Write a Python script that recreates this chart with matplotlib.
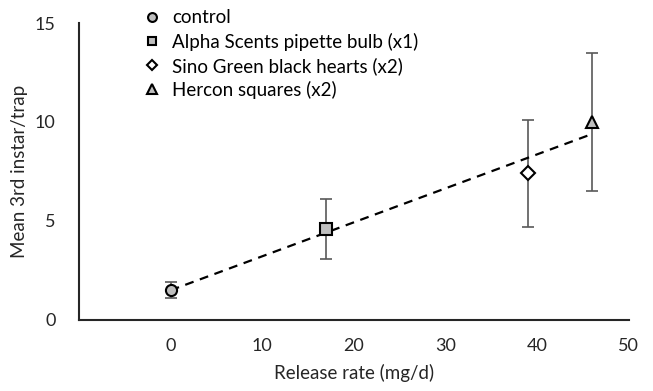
import numpy as np
import matplotlib.pyplot as plt

plt.rcParams['font.family'] = ['Lato', 'DejaVu Sans']

# data
labels = ['control', 'Alpha Scents pipette bulb (x1)', 'Sino Green black hearts (x2)', 'Hercon squares (x2)']
release = [0, 17, 39, 46]
mean_instar = [1.5, 4.6, 7.4, 10.0]
err_lo = [0.4, 1.5, 2.7, 3.5]
err_hi = [0.4, 1.5, 2.7, 3.5]
markers = ['o', 's', 'D', '^']
fills = ['#bfbfbf', '#bfbfbf', 'white', '#bfbfbf']
msizes = [8, 8, 7, 9]

fig = plt.figure(figsize=(6.53, 3.91), dpi=100)
ax = fig.add_axes([0.121, 0.182, 0.842, 0.759])

for i in range(len(labels)):
    ax.errorbar(release[i], mean_instar[i], yerr=[[err_lo[i]], [err_hi[i]]],
                fmt='none', ecolor='#595959', elinewidth=1.2, capsize=4, capthick=1.2, zorder=2)
    ax.plot(release[i], mean_instar[i], linestyle='none', marker=markers[i], ms=msizes[i],
            mfc=fills[i], mec='black', mew=1.5, label=labels[i], zorder=3)

# linear trend line
slope, icpt = np.polyfit(release, mean_instar, 1)
xs = np.array([min(release), max(release)])
ax.plot(xs, slope * xs + icpt, color='black', linestyle=(0, (4, 3)), lw=1.6, zorder=2.5)

ax.set_xlim(-10, 50)
ax.set_ylim(0, 15)
ax.set_xticks([0, 10, 20, 30, 40, 50])
ax.set_yticks([0, 5, 10, 15])
ax.tick_params(length=0, labelsize=13, colors='#262626')
ax.tick_params(axis='y', pad=17)
ax.tick_params(axis='x', pad=13)
for s in ['top', 'right']:
    ax.spines[s].set_visible(False)
for s in ['left', 'bottom']:
    ax.spines[s].set_linewidth(1.5)
    ax.spines[s].set_color('#262626')

ax.set_xlabel('Release rate (mg/d)', fontsize=13.5, color='#262626', labelpad=7)
ax.set_ylabel('Mean 3rd instar/trap', fontsize=13.5, color='#262626', labelpad=5)

ax.legend(loc='upper left', bbox_to_anchor=(0.212, 0.995), bbox_transform=fig.transFigure,
          frameon=False, fontsize=13.5, handletextpad=0.7, labelspacing=0.33,
          markerscale=0.8, handlelength=0.7, borderaxespad=0)

fig.savefig('out.png', dpi=100)
